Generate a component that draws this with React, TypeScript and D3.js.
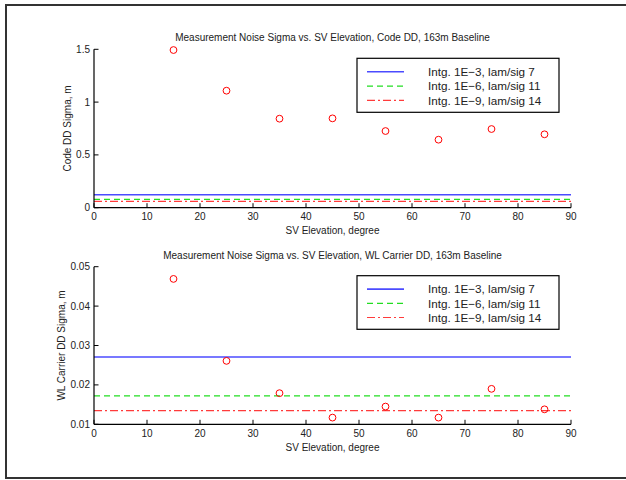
import React from "react";
import * as d3 from "d3";

const elevations = [15, 25, 35, 45, 55, 65, 75, 85];
const codeSigma = [1.493, 1.108, 0.843, 0.846, 0.726, 0.644, 0.745, 0.695];
const wlSigma = [0.0469, 0.0261, 0.0179, 0.0117, 0.0145, 0.0117, 0.019, 0.0138];
const legendLabels = [
  "Intg. 1E\u22123, lam/sig 7",
  "Intg. 1E\u22126, lam/sig 11",
  "Intg. 1E\u22129, lam/sig 14",
];
const codeLevels = [0.123, 0.079, 0.06];
const wlLevels = [0.0271, 0.0172, 0.01345];
const xTicks = [0, 10, 20, 30, 40, 50, 60, 70, 80, 90];
const codeTicks = [0, 0.5, 1, 1.5];
const codeTickLabels = ["0", "0.5", "1", "1.5"];
const wlTicks = [0.01, 0.02, 0.03, 0.04, 0.05];
const wlTickLabels = ["0.01", "0.02", "0.03", "0.04", "0.05"];

const FONT = "'Liberation Sans', Arial, Helvetica, sans-serif";
const lineStyles = [
  { color: "#4b4bff", dash: "none", width: 1.6 },
  { color: "#22dd22", dash: "6,4", width: 1.2 },
  { color: "#ff3b3b", dash: "8,3,2,3", width: 1.2 },
];

type PanelProps = {
  top: number;
  bottom: number;
  domain: [number, number];
  ticks: number[];
  tickLabels: string[];
  values: number[];
  levels: number[];
  title: string;
  ylabel: string;
  ylabelX: number;
  legendTop: number;
  legendBottom: number;
};

function Panel(p: PanelProps) {
  const x = d3.scaleLinear().domain([0, 90]).range([94, 571]);
  const y = d3.scaleLinear().domain(p.domain).range([p.bottom, p.top]);
  const tickLen = 4.5;
  const legendRows = d3
    .scaleLinear()
    .domain([0, 2])
    .range([p.legendTop + (p.legendBottom - p.legendTop) * 0.25, p.legendTop + (p.legendBottom - p.legendTop) * 0.78]);
  const lineGen = d3
    .line<number>()
    .x((d) => x(d))
    .y(0);
  return (
    <g fontFamily={FONT}>
      <text x={(x(0) + x(90)) / 2} y={p.top - 8} textAnchor="middle" fontSize={10} fill="#222">
        {p.title}
      </text>
      {/* reference lines */}
      {p.levels.map((lv, i) => (
        <path
          key={"l" + i}
          d={lineGen([0, 90]) || ""}
          transform={`translate(0,${y(lv)})`}
          stroke={lineStyles[i].color}
          strokeWidth={lineStyles[i].width}
          strokeDasharray={lineStyles[i].dash}
          fill="none"
        />
      ))}
      {/* points */}
      {elevations.map((e, i) => (
        <circle key={"c" + i} cx={x(e)} cy={y(p.values[i])} r={3.4} fill="none" stroke="#ff0000" strokeWidth={1} />
      ))}
      {/* axes */}
      <line x1={x(0)} x2={x(90)} y1={p.bottom} y2={p.bottom} stroke="#000" strokeWidth={1.2} />
      <line x1={x(0)} x2={x(0)} y1={p.top} y2={p.bottom} stroke="#000" strokeWidth={1.2} />
      {xTicks.map((t) => (
        <g key={"xt" + t}>
          <line x1={x(t)} x2={x(t)} y1={p.bottom} y2={p.bottom - tickLen} stroke="#000" strokeWidth={1} />
          <text x={x(t)} y={p.bottom + 12.5} textAnchor="middle" fontSize={10} fill="#222">
            {t}
          </text>
        </g>
      ))}
      {p.ticks.map((t, i) => (
        <g key={"yt" + i}>
          <line x1={x(0)} x2={x(0) + tickLen} y1={y(t)} y2={y(t)} stroke="#000" strokeWidth={1} />
          <text x={90} y={y(t) + 3.5} textAnchor="end" fontSize={10} fill="#222">
            {p.tickLabels[i]}
          </text>
        </g>
      ))}
      <text x={(x(0) + x(90)) / 2} y={p.bottom + 26.5} textAnchor="middle" fontSize={10} fill="#222">
        SV Elevation, degree
      </text>
      <text
        transform={`translate(${p.ylabelX},${(p.top + p.bottom) / 2}) rotate(-90)`}
        textAnchor="middle"
        fontSize={10}
        fill="#222"
      >
        {p.ylabel}
      </text>
      {/* legend */}
      <rect
        x={357}
        y={p.legendTop}
        width={202}
        height={p.legendBottom - p.legendTop}
        fill="#fff"
        stroke="#000"
        strokeWidth={1.2}
      />
      {legendLabels.map((lab, i) => (
        <g key={"lg" + i}>
          <line
            x1={367}
            x2={404}
            y1={legendRows(i)}
            y2={legendRows(i)}
            stroke={lineStyles[i].color}
            strokeWidth={lineStyles[i].width}
            strokeDasharray={lineStyles[i].dash}
          />
          <text x={428} y={legendRows(i) + 4.2} fontSize={11.7} fill="#222">
            {lab}
          </text>
        </g>
      ))}
    </g>
  );
}

export default function App() {
  return (
    <svg
      width={626}
      height={480}
      style={{ position: "absolute", left: 0, top: 0, background: "#fff" }}
    >
      <rect x={0} y={0} width={626} height={480} fill="#fff" />
      <path d="M626,5 H6 V478 H626" fill="none" stroke="#333" strokeWidth={2} />
      <Panel
        top={49.3}
        bottom={207.7}
        domain={[0, 1.5]}
        ticks={codeTicks}
        tickLabels={codeTickLabels}
        values={codeSigma}
        levels={codeLevels}
        title="Measurement Noise Sigma vs. SV Elevation, Code DD, 163m Baseline"
        ylabel="Code DD Sigma, m"
        ylabelX={71}
        legendTop={58.3}
        legendBottom={112.3}
      />
      <Panel
        top={266.7}
        bottom={424.3}
        domain={[0.01, 0.05]}
        ticks={wlTicks}
        tickLabels={wlTickLabels}
        values={wlSigma}
        levels={wlLevels}
        title="Measurement Noise Sigma vs. SV Elevation, WL Carrier DD, 163m Baseline"
        ylabel="WL Carrier DD Sigma, m"
        ylabelX={65}
        legendTop={275.7}
        legendBottom={329.3}
      />
    </svg>
  );
}
